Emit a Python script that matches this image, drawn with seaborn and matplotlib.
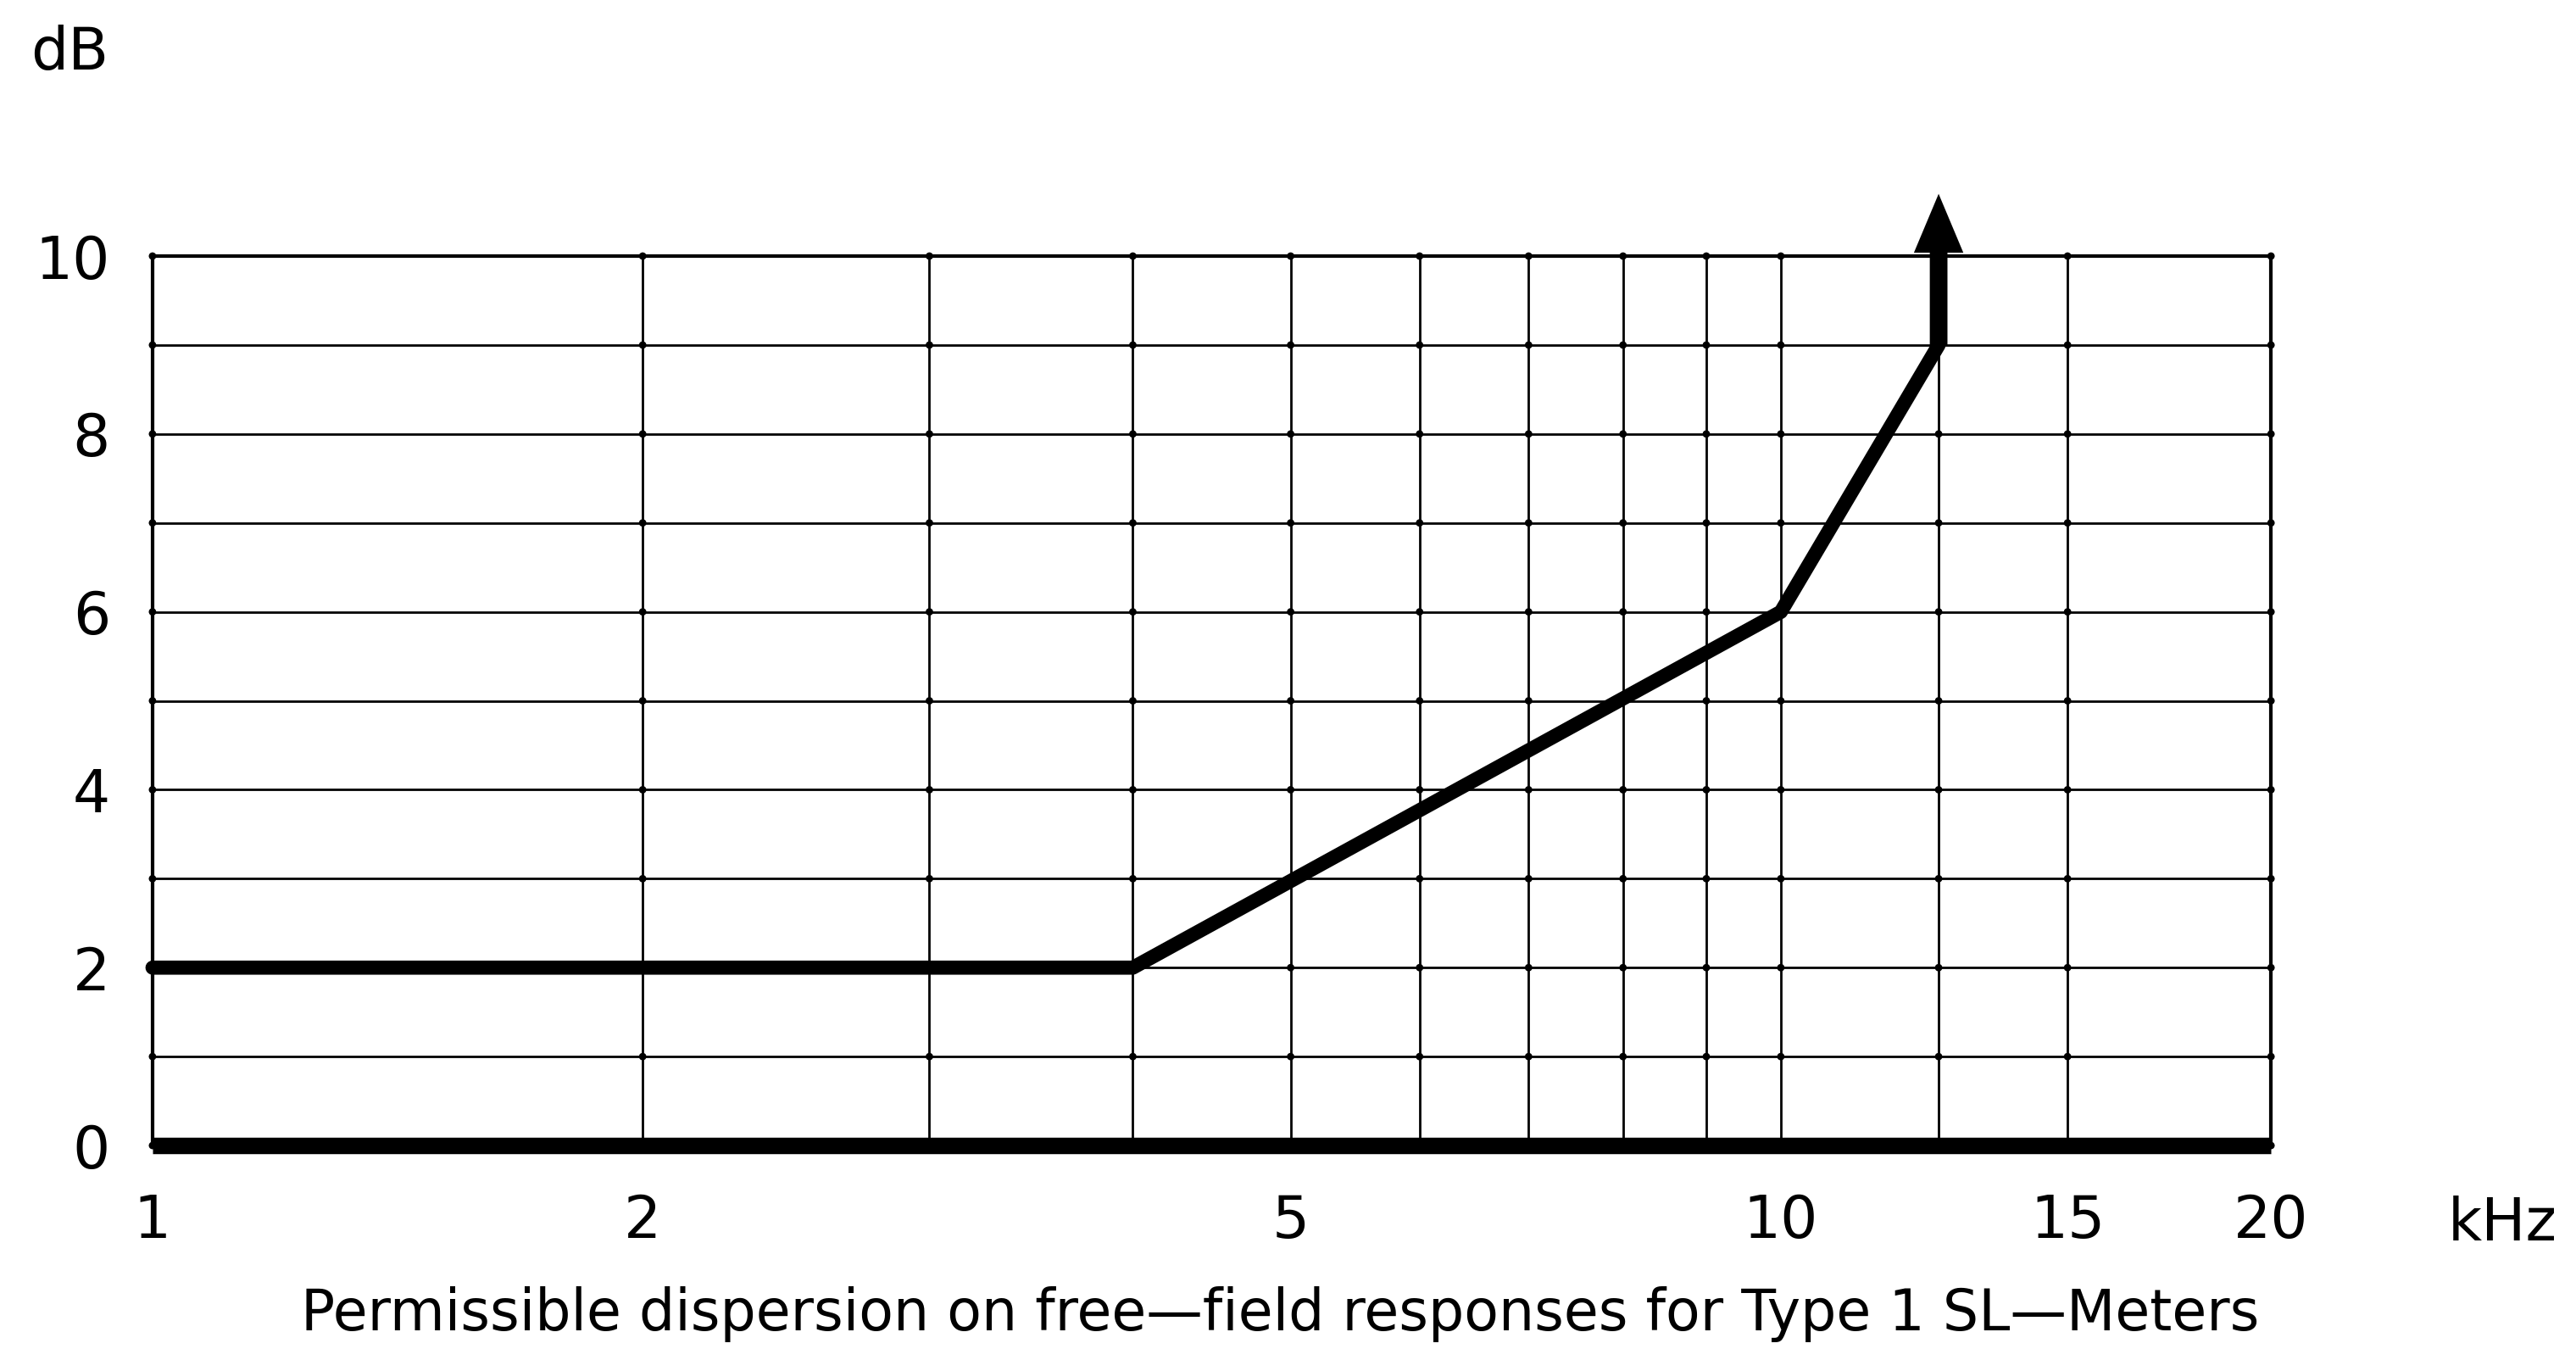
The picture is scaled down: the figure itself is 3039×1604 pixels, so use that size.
import matplotlib.pyplot as plt
import matplotlib.ticker as mticker
import numpy as np
import pandas as pd
import seaborn as sns

# Permissible dispersion limits (frequency in kHz, level in dB)
upper_freq = [1, 4, 10, 12.5]
upper_db = [2, 2, 6, 9]
lower_freq = [1, 20]
lower_db = [0, 0]
arrow_top_db = 10.7   # upper limit open-ended above 12.5 kHz

x_ticks = [1, 2, 5, 10, 15, 20]
x_grid = [1, 2, 3, 4, 5, 6, 7, 8, 9, 10, 12.5, 15, 20]
y_ticks = [0, 2, 4, 6, 8, 10]
y_grid = [0, 1, 2, 3, 4, 5, 6, 7, 8, 9, 10]

title = "Permissible dispersion on free\u2014field responses for Type 1 SL\u2014Meters"

sns.set_style("white")
plt.rcParams['font.family'] = ['DejaVu Sans']
plt.rcParams['text.color'] = 'black'
plt.rcParams['xtick.color'] = 'black'
plt.rcParams['ytick.color'] = 'black'

fig = plt.figure(figsize=(30.39, 16.04), dpi=100)
ax = fig.add_axes([0.0592, 0.1577, 0.8224, 0.6540])

# grid intersections
gx, gy = np.meshgrid(x_grid, y_grid)
sns.scatterplot(x=gx.ravel(), y=gy.ravel(), s=40, color='black',
                edgecolor='none', ax=ax, clip_on=False, zorder=2)

upper = pd.DataFrame({'freq': upper_freq, 'db': upper_db})
lower = pd.DataFrame({'freq': lower_freq, 'db': lower_db})
sns.lineplot(data=upper, x='freq', y='db', color='black', lw=12, ax=ax,
             clip_on=False, solid_capstyle='round', solid_joinstyle='round', zorder=4)
sns.lineplot(data=lower, x='freq', y='db', color='black', lw=14, ax=ax,
             clip_on=False, solid_capstyle='butt', zorder=4)

ax.annotate('', xy=(upper_freq[-1], arrow_top_db), xytext=(upper_freq[-1], upper_db[-1]),
            arrowprops=dict(arrowstyle='simple,head_length=2.5,head_width=2.1,tail_width=0.75',
                            mutation_scale=20, color='black', lw=0, shrinkA=0, shrinkB=0),
            annotation_clip=False, zorder=5)

ax.set_xscale('log')
ax.set_xlim(1, 20)
ax.set_ylim(0, 10)

ax.xaxis.set_major_locator(mticker.FixedLocator(x_ticks))
ax.xaxis.set_minor_locator(mticker.FixedLocator(x_grid))
ax.xaxis.set_major_formatter(mticker.FixedFormatter([str(v) for v in x_ticks]))
ax.xaxis.set_minor_formatter(mticker.NullFormatter())
ax.yaxis.set_major_locator(mticker.FixedLocator(y_ticks))
ax.yaxis.set_minor_locator(mticker.FixedLocator(y_grid))

ax.grid(which='both', color='black', lw=2)
ax.tick_params(which='both', length=0)
ax.tick_params(axis='x', labelsize=50, pad=40, colors='black')
ax.tick_params(axis='y', labelsize=50, pad=36, colors='black')
for s in ax.spines.values():
    s.set_color('black')
    s.set_linewidth(3)
ax.set_xlabel('')
ax.set_ylabel('')

fig.text(0.027, 0.961, 'dB', fontsize=50, ha='center', va='center')
fig.text(0.9714, 0.0998, 'kHz', fontsize=50, ha='center', va='center')
fig.text(0.4968, 0.0337, title, fontsize=48, ha='center', va='center')

fig.savefig('out.png', dpi=100)
